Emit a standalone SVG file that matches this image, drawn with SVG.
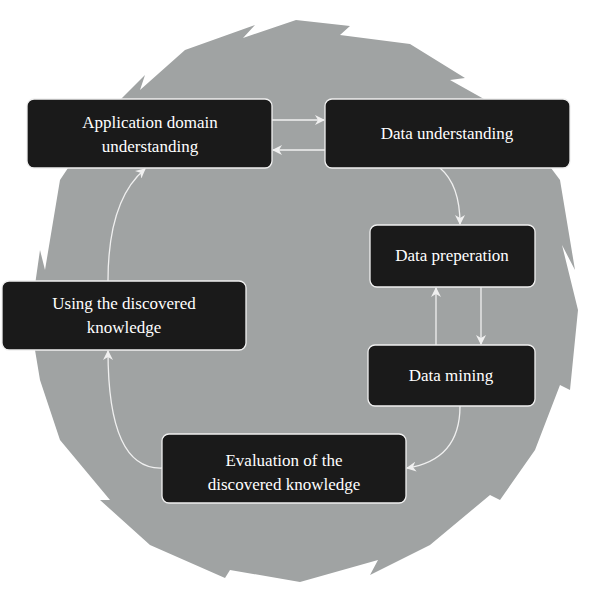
<svg xmlns="http://www.w3.org/2000/svg" width="600" height="600" viewBox="0 0 600 600">
<defs>
<style>
.n rect{fill:#1a1a1a;stroke:#f0f0f0;stroke-width:1.3}
.n text{fill:#fff;font-family:"Liberation Serif",serif;font-size:17px;text-anchor:middle}
.c path{fill:none;stroke:#f0f0f0;stroke-width:1.3;marker-end:url(#a)}
</style>
<marker id="a" viewBox="0 0 10 10" refX="9" refY="5" markerWidth="10" markerHeight="10" markerUnits="userSpaceOnUse" orient="auto"><path d="M0,0 L10,5 L0,10 L3,5 Z" fill="#f0f0f0"/></marker>
</defs>
<rect width="600" height="600" fill="#fff"/>
<polygon fill="#a0a3a3" points="296,20 350,26 340,35 410,44 465,78 450,80 500,108 545,160 560,180 575,270 562,245 578,310 570,390 560,385 535,450 500,500 490,495 430,545 370,575 378,560 300,582 230,570 225,578 150,545 100,500 110,500 60,440 40,380 30,320 40,250 45,270 60,180 100,120 145,75 140,90 185,50 255,25 243,38"/>
<g class="c">
<path d="M272,120 L324,120"/>
<path d="M325,150 L273,150"/>
<path d="M440,168 Q460,185 460,224"/>
<path d="M481,287 L481,344"/>
<path d="M436,345 L436,288"/>
<path d="M460,406 Q460,460 407,468"/>
<path d="M162,468 Q108,470 108,351"/>
<path d="M108,281 Q108,200 145,169"/>
</g>
<g id="n1" class="n"><rect x="27" y="99" width="245" height="69" rx="7"/><text x="150" y="128">Application domain</text><text x="150" y="152">understanding</text></g>
<g id="n2" class="n"><rect x="325" y="99" width="245" height="69" rx="7"/><text x="447" y="139">Data understanding</text></g>
<g id="n3" class="n"><rect x="370" y="225" width="165" height="62" rx="7"/><text x="452" y="261">Data preperation</text></g>
<g id="n4" class="n"><rect x="368" y="345" width="167" height="61" rx="7"/><text x="451" y="381">Data mining</text></g>
<g id="n5" class="n"><rect x="162" y="434" width="244" height="69" rx="7"/><text x="284" y="466">Evaluation of the</text><text x="284" y="490">discovered knowledge</text></g>
<g id="n6" class="n"><rect x="2" y="281" width="244" height="69" rx="7"/><text x="124" y="309">Using the discovered</text><text x="124" y="333">knowledge</text></g>
</svg>
